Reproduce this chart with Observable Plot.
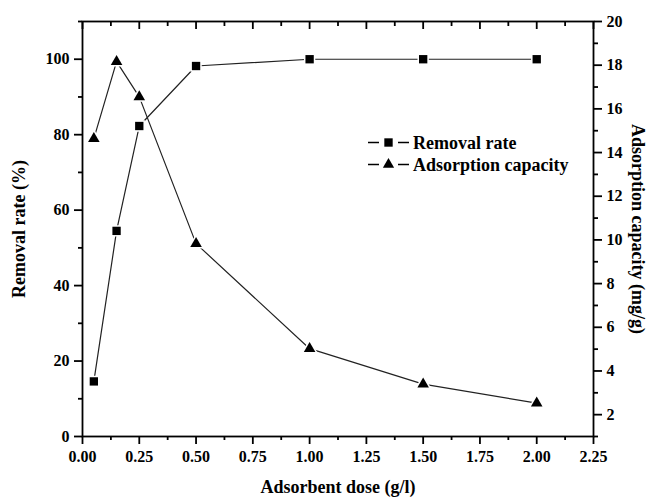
<!DOCTYPE html>
<html><head><meta charset="utf-8">
<script src="https://cdn.jsdelivr.net/npm/d3@7"></script>
<script src="https://cdn.jsdelivr.net/npm/@observablehq/plot@0.6"></script>
<style>
body{margin:0;background:#fff;}
#chart{position:relative;width:653px;height:498px;}
</style></head><body><div id="chart"></div>
<script>
// ---- data ----
const doses = [0.05, 0.15, 0.25, 0.5, 1.0, 1.5, 2.0];
const removalRate = [14.6, 54.5, 82.3, 98.2, 100, 100, 100];
const adsorptionCapacity = [14.64, 18.16, 16.55, 9.83, 5.02, 3.40, 2.53];
const seriesNames = ["Removal rate", "Adsorption capacity"];
const xTicks = [0, 0.25, 0.5, 0.75, 1.0, 1.25, 1.5, 1.75, 2.0, 2.25];
const xMinorTicks = [0.125, 0.375, 0.625, 0.875, 1.125, 1.375, 1.625, 1.875, 2.125];
const leftTicks = [0, 20, 40, 60, 80, 100];
const leftMinorTicks = [10, 30, 50, 70, 90, 110];
const rightTicks = [2, 4, 6, 8, 10, 12, 14, 16, 18, 20];
const rightMinorTicks = [1, 3, 5, 7, 9, 11, 13, 15, 17, 19];
const xLabel = "Adsorbent dose (g/l)";
const leftLabel = "Removal rate (%)";
const rightLabel = "Adsorption capacity (mg/g)";
const leftDomain = [0, 110];
const rightDomain = [1, 20];

// ---- mapping right axis values onto left scale ----
const toLeft = v => leftDomain[0] + (v - rightDomain[0]) * (leftDomain[1] - leftDomain[0]) / (rightDomain[1] - rightDomain[0]);
const fromLeft = p => rightDomain[0] + (p - leftDomain[0]) * (rightDomain[1] - rightDomain[0]) / (leftDomain[1] - leftDomain[0]);

const removal = doses.map((d, i) => ({dose: d, value: removalRate[i]}));
const adsorption = doses.map((d, i) => ({dose: d, value: toLeft(adsorptionCapacity[i])}));

const font = "'Liberation Serif', 'Times New Roman', serif";
const blank = () => "";
const sw = 1.8;

const plot = Plot.plot({
  width: 653, height: 498,
  marginLeft: 82, marginRight: 60, marginTop: 21, marginBottom: 62,
  style: {fontFamily: font, fontWeight: "bold", fontSize: "16px", background: "white", color: "black"},
  x: {domain: [0, 2.25]},
  y: {domain: leftDomain},
  marks: [
    // bottom axis
    Plot.axisX({ticks: xTicks, tickFormat: d3.format(".2f"), tickSize: 8, tickPadding: 6, strokeWidth: sw, label: null}),
    Plot.axisX({ticks: xMinorTicks, tickFormat: blank, tickSize: 4, strokeWidth: sw, label: null}),
    // top (inward) ticks
    Plot.axisX({anchor: "top", ticks: xTicks, tickFormat: blank, tickSize: 7, dy: 7, strokeWidth: sw, label: null}),
    Plot.axisX({anchor: "top", ticks: xMinorTicks, tickFormat: blank, tickSize: 4, dy: 4, strokeWidth: sw, label: null}),
    // left axis
    Plot.axisY({ticks: leftTicks, tickFormat: d3.format("d"), tickSize: 8, tickPadding: 5, strokeWidth: sw, label: null}),
    Plot.axisY({ticks: leftMinorTicks, tickFormat: blank, tickSize: 4, strokeWidth: sw, label: null}),
    // right axis
    Plot.axisY({anchor: "right", ticks: rightTicks.map(toLeft), tickFormat: p => d3.format("d")(Math.round(fromLeft(p))), tickSize: 8, tickPadding: 5, strokeWidth: sw, label: null}),
    Plot.axisY({anchor: "right", ticks: rightMinorTicks.map(toLeft), tickFormat: blank, tickSize: 4, strokeWidth: sw, label: null}),
    Plot.frame({stroke: "black", strokeWidth: sw}),
    // axis titles
    Plot.text([leftLabel], {text: d => d, frameAnchor: "left", textAnchor: "middle", rotate: -90, dx: -63, fontSize: 18, fontWeight: "bold"}),
    Plot.text([rightLabel], {text: d => d, frameAnchor: "right", textAnchor: "middle", rotate: 90, dx: 44, fontSize: 18, fontWeight: "bold"}),
    Plot.text([xLabel], {text: d => d, frameAnchor: "bottom", textAnchor: "middle", dy: 56, fontSize: 18, fontWeight: "bold"}),
    // series
    Plot.line(removal, {x: "dose", y: "value", stroke: "#222", strokeWidth: 1.2}),
    Plot.line(adsorption, {x: "dose", y: "value", stroke: "#222", strokeWidth: 1.2}),
    Plot.dot(removal, {x: "dose", y: "value", symbol: "square", r: 4.7, fill: "black", stroke: "white", strokeWidth: 3, paintOrder: "stroke"}),
    Plot.dot(adsorption, {x: "dose", y: "value", symbol: "triangle", r: 4.3, fill: "black", stroke: "white", strokeWidth: 3, paintOrder: "stroke"})
  ]
});
document.getElementById("chart").appendChild(plot);

// ---- legend (inside plot area) ----
const svg = d3.select(plot);
const lg = svg.append("g").attr("font-family", font).attr("font-weight", "bold").attr("font-size", 18).attr("text-anchor", "start");
const symbols = [d3.symbol(d3.symbolSquare, 70), d3.symbol(d3.symbolTriangle, 55)];
const rowY = [142.5, 164.5];
seriesNames.forEach((name, i) => {
  const y = rowY[i];
  lg.append("line").attr("x1", 368).attr("x2", 379).attr("y1", y).attr("y2", y).attr("stroke", "black").attr("stroke-width", 1.5);
  lg.append("line").attr("x1", 398).attr("x2", 409).attr("y1", y).attr("y2", y).attr("stroke", "black").attr("stroke-width", 1.5);
  lg.append("path").attr("d", symbols[i]()).attr("transform", `translate(388.5,${y})`).attr("fill", "black");
  lg.append("text").attr("x", 413).attr("y", y).attr("dy", "0.35em").attr("text-anchor", "start").text(name);
});
</script></body></html>
